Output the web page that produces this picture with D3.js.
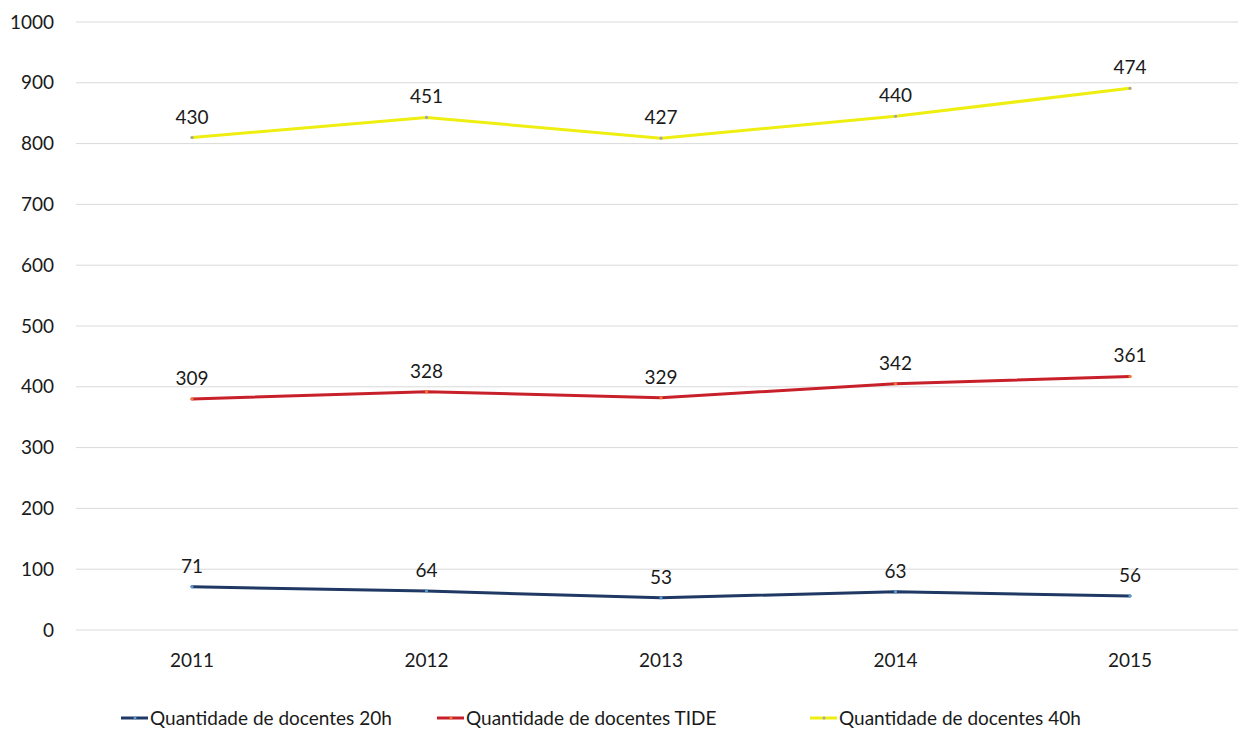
<!DOCTYPE html>
<html>
<head>
<meta charset="utf-8">
<script src="https://cdn.jsdelivr.net/npm/d3@7"></script>
<style>
  body { margin: 0; background: #fff; }
  text { font-family: Lato, "Open Sans", sans-serif; fill: #1a1a1a; }
</style>
</head>
<body>
<div id="chart"></div>
<script>
const years = ["2011", "2012", "2013", "2014", "2015"]
const docentes20h = [71, 64, 53, 63, 56]
const docentesTIDE = [309, 328, 329, 342, 361]
const docentes40h = [430, 451, 427, 440, 474]
const yTicks = [0, 100, 200, 300, 400, 500, 600, 700, 800, 900, 1000]

const seriesNames = ["Quantidade de docentes 20h", "Quantidade de docentes TIDE", "Quantidade de docentes 40h"]
const seriesColors = ["#1f3864", "#c8202a", "#eeee10"]
const markerColors = ["#5b9bd5", "#ed7d31", "#a5a5a5"]

const width = 1238
const height = 729

const svg = d3.select("#chart")
    .append("svg")
    .attr("width", width)
    .attr("height", height)

// stacked lines, each label shows its own value
const table = years.map((y, i) => ({
    year: y, a: docentes20h[i], b: docentesTIDE[i], c: docentes40h[i]
}))
const stacked = d3.stack().keys(["a", "b", "c"])(table)

const x = d3.scalePoint()
    .domain(years)
    .range([192, 1130])

const y = d3.scaleLinear()
    .domain([0, 1000])
    .range([630, 22])

// gridlines
svg.append("g")
    .selectAll("line")
    .data(yTicks)
    .enter()
    .append("line")
    .attr("x1", 76)
    .attr("x2", width)
    .attr("y1", d => y(d))
    .attr("y2", d => y(d))
    .attr("stroke", "#d9d9d9")
    .attr("stroke-width", 1)

// y tick labels
svg.append("g")
    .selectAll("text")
    .data(yTicks)
    .enter()
    .append("text")
    .attr("x", 54)
    .attr("y", d => y(d))
    .attr("dy", "0.35em")
    .attr("text-anchor", "end")
    .style("font-size", "19px")
    .text(d => d)

// x tick labels
svg.append("g")
    .selectAll("text")
    .data(years)
    .enter()
    .append("text")
    .attr("x", d => x(d))
    .attr("y", 667)
    .attr("text-anchor", "middle")
    .style("font-size", "19px")
    .text(d => d)

const line = d3.line()
    .x(d => x(d.data.year))
    .y(d => y(d[1]))

stacked.forEach((s, si) => {
    svg.append("path")
        .datum(s)
        .attr("d", line)
        .attr("fill", "none")
        .attr("stroke", seriesColors[si])
        .attr("stroke-width", 3)
        .attr("stroke-linecap", "round")

    svg.append("g")
        .selectAll("circle")
        .data(s)
        .enter()
        .append("circle")
        .attr("cx", d => x(d.data.year))
        .attr("cy", d => y(d[1]))
        .attr("r", 1.6)
        .attr("fill", markerColors[si])

    svg.append("g")
        .selectAll("text")
        .data(s)
        .enter()
        .append("text")
        .attr("x", d => x(d.data.year))
        .attr("y", d => y(d[1]) - 14)
        .attr("text-anchor", "middle")
        .style("font-size", "19px")
        .text(d => d[1] - d[0])
})

// legend
const legendX = [121, 437, 810]
const legend = svg.append("g")
    .selectAll("g")
    .data(seriesNames)
    .enter()
    .append("g")
    .attr("transform", (d, i) => `translate(${legendX[i]},718)`)

legend.append("line")
    .attr("x1", 0)
    .attr("x2", 27)
    .attr("stroke", (d, i) => seriesColors[i])
    .attr("stroke-width", 3)

legend.append("circle")
    .attr("cx", 14)
    .attr("r", 1.5)
    .attr("fill", (d, i) => markerColors[i])

legend.append("text")
    .attr("x", 29)
    .attr("dy", "0.35em")
    .style("font-size", "19px")
    .text(d => d)
</script>
</body>
</html>
